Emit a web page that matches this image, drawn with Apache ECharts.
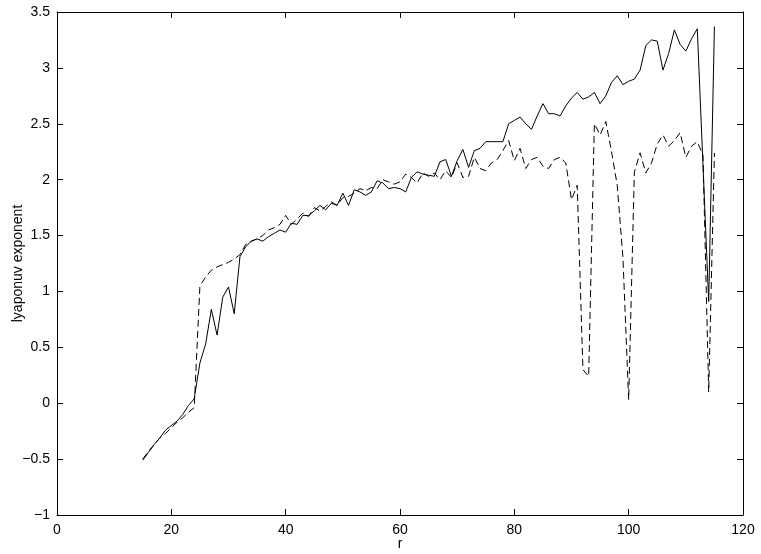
<!DOCTYPE html>
<html>
<head>
<meta charset="utf-8">
<script src="https://cdn.jsdelivr.net/npm/echarts@6/dist/echarts.min.js"></script>
<style>
  html, body { margin: 0; padding: 0; background: #fff; }
  #chart { width: 761px; height: 554px; }
</style>
</head>
<body>
<div id="chart"></div>
<script>
// r values, one per step
const rValues = []
for (let r = 15; r <= 115; r++) rValues.push(r)

// solid line
const solidValues = [
  -0.51, -0.44, -0.37, -0.31, -0.24, -0.2, -0.16, -0.1, -0.02, 0.04,
  0.36, 0.53, 0.84, 0.61, 0.95, 1.04, 0.8, 1.31, 1.4, 1.45,
  1.47, 1.45, 1.49, 1.52, 1.55, 1.53, 1.61, 1.6, 1.68, 1.68,
  1.72, 1.77, 1.73, 1.79, 1.77, 1.88, 1.77, 1.91, 1.89, 1.86,
  1.89, 1.99, 1.97, 1.92, 1.93, 1.92, 1.89, 2.02, 2.07, 2.05,
  2.04, 2.03, 2.16, 2.18, 2.03, 2.17, 2.27, 2.11, 2.26, 2.28,
  2.34, 2.34, 2.34, 2.34, 2.5, 2.53, 2.56, 2.5, 2.45, 2.57,
  2.68, 2.59, 2.59, 2.57, 2.66, 2.73, 2.78, 2.72, 2.74, 2.78,
  2.68, 2.75, 2.87, 2.93, 2.85, 2.88, 2.9, 2.98, 3.2, 3.25,
  3.24, 2.98, 3.13, 3.34, 3.21, 3.15, 3.26, 3.35, 2.13, 0.91,
  3.37
]

// dashed line
const dashedValues = [
  -0.5, -0.43, -0.37, -0.31, -0.27, -0.22, -0.17, -0.13, -0.08, -0.04,
  1.05, 1.13, 1.19, 1.22, 1.24, 1.26, 1.29, 1.33, 1.42, 1.45,
  1.47, 1.5, 1.55, 1.57, 1.6, 1.68, 1.6, 1.65, 1.7, 1.67,
  1.75, 1.72, 1.76, 1.8, 1.77, 1.84, 1.85, 1.88, 1.92, 1.9,
  1.93, 1.92, 2.0, 1.98, 1.96, 1.98, 2.05, 2.02, 1.97, 2.06,
  2.03, 2.06, 2.0, 2.08, 2.02, 2.15, 2.02, 2.03, 2.2, 2.1,
  2.08, 2.15, 2.18, 2.26, 2.35, 2.17, 2.28, 2.1, 2.18, 2.2,
  2.12, 2.1, 2.18, 2.2, 2.15, 1.82, 1.95, 0.3, 0.24, 2.5,
  2.4, 2.52, 2.25, 1.95, 1.3, 0.03, 2.07, 2.24, 2.06, 2.15,
  2.32, 2.4, 2.3, 2.35, 2.42, 2.2, 2.3, 2.34, 2.22, 0.1,
  2.24
]

const xTicks = { min: 0, max: 120, interval: 20 }
const yTicks = { min: -1, max: 3.5, interval: 0.5 }

const font = 'Liberation Sans, Arial, Helvetica, sans-serif'

const chart = echarts.init(document.getElementById('chart'), null, { renderer: 'canvas' })

// shared look of the matlab-style frame
const frameAxis = {
  axisLine: { show: true, onZero: false, lineStyle: { color: '#000', width: 1 } },
  axisTick: { show: true, inside: true, length: 6, lineStyle: { color: '#000', width: 1 } },
  splitLine: { show: false }
}

const fmtY = (v) => (v < 0 ? '\u2212' + String(-v) : String(v))

chart.setOption({
  animation: false,
  backgroundColor: '#fff',
  grid: { left: 57, right: 18, top: 12, bottom: 39, containLabel: false, outerBoundsMode: 'none' },
  xAxis: [
    {
      type: 'value', ...xTicks, ...frameAxis,
      name: 'r', nameLocation: 'middle', nameGap: 22, nameMoveOverlap: false,
      nameTextStyle: { color: '#000', fontSize: 14, fontFamily: font },
      axisLabel: { color: '#000', fontSize: 14, fontFamily: font, margin: 8 }
    },
    {
      type: 'value', position: 'top', ...xTicks, ...frameAxis,
      axisLabel: { show: false }
    }
  ],
  yAxis: [
    {
      type: 'value', ...yTicks, ...frameAxis,
      name: 'lyaponuv exponent', nameLocation: 'middle', nameGap: 32, nameMoveOverlap: false,
      nameTextStyle: { color: '#000', fontSize: 14, fontFamily: font },
      axisLabel: { color: '#000', fontSize: 14, fontFamily: font, margin: 7, formatter: fmtY }
    },
    {
      type: 'value', position: 'right', ...yTicks, ...frameAxis,
      axisLabel: { show: false }
    }
  ],
  series: [
    {
      type: 'line',
      data: rValues.map((r, i) => [r, solidValues[i]]),
      symbol: 'none',
      lineStyle: { color: '#000', width: 1 }
    },
    {
      type: 'line',
      data: rValues.map((r, i) => [r, dashedValues[i]]),
      symbol: 'none',
      lineStyle: { color: '#000', width: 1, type: [7, 4] }
    }
  ]
})
</script>
</body>
</html>
